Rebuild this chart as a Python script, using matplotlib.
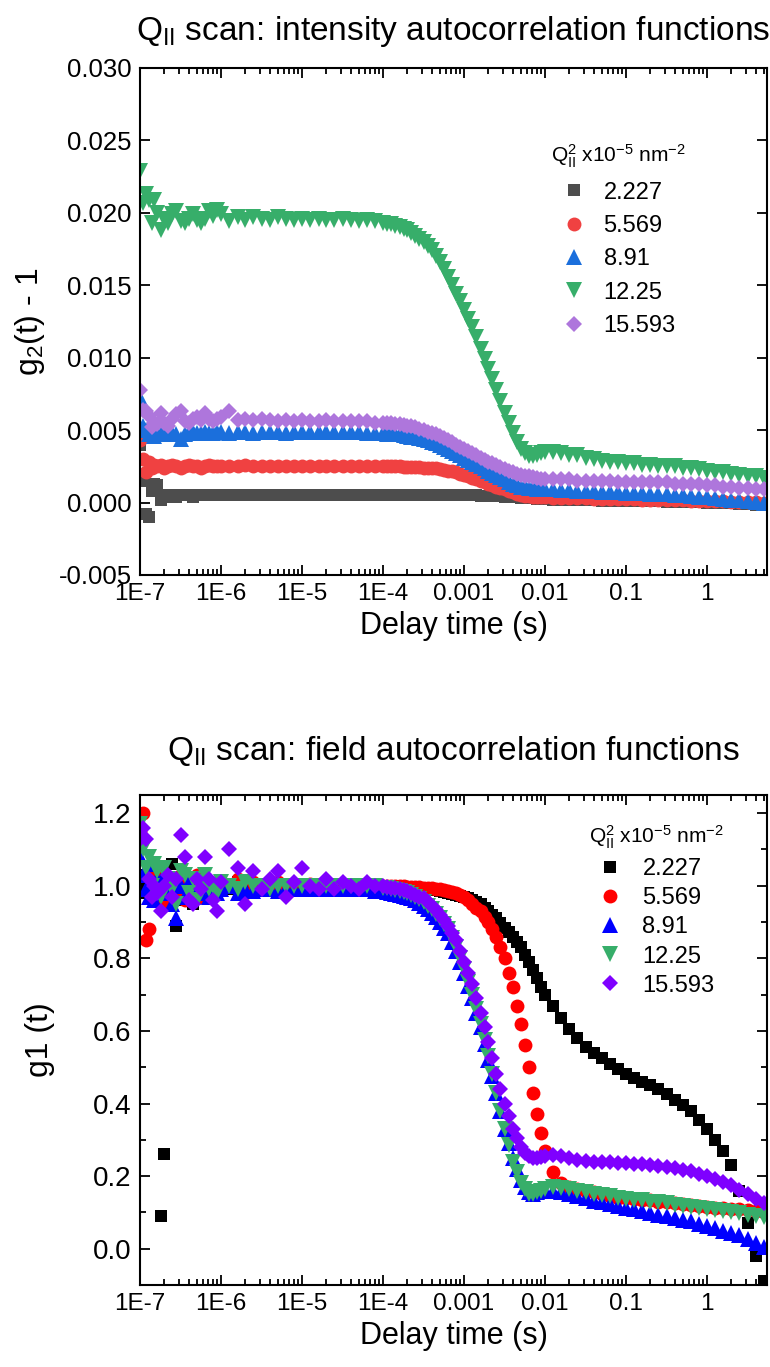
import matplotlib
matplotlib.use('Agg')
import matplotlib.pyplot as plt
from matplotlib.ticker import FixedLocator, FixedFormatter, MultipleLocator, NullFormatter

plt.rcParams['font.family'] = ['Liberation Sans', 'DejaVu Sans']
plt.rcParams['mathtext.fontset'] = 'custom'
plt.rcParams['mathtext.rm'] = 'Liberation Sans'
plt.rcParams['mathtext.it'] = 'Liberation Sans:italic'

# delay times (s) of the correlator channels
delay = [1.0e-7, 1.1e-7, 1.2e-7, 1.3e-7, 1.4e-7, 1.5e-7, 1.6e-7, 1.8e-7, 2.0e-7, 2.2e-7, 2.5e-7,
         2.8e-7, 3.2e-7, 3.6e-7, 4.0e-7, 4.5e-7, 5.0e-7, 5.6e-7, 6.3e-7, 7.1e-7, 8.0e-7, 9.0e-7,
         1.0e-6, 1.25e-6, 1.6e-6, 2.0e-6, 2.5e-6, 3.2e-6, 4.0e-6, 5.0e-6, 6.3e-6, 8.0e-6,
         1.0e-5, 1.25e-5, 1.6e-5, 2.0e-5, 2.5e-5, 3.2e-5, 4.0e-5, 5.0e-5, 6.3e-5, 8.0e-5,
         1.0e-4, 1.12e-4, 1.25e-4, 1.4e-4, 1.6e-4, 1.8e-4, 2.0e-4, 2.24e-4, 2.5e-4, 2.8e-4,
         3.2e-4, 3.55e-4, 4.0e-4, 4.5e-4, 5.0e-4, 5.6e-4, 6.3e-4, 7.1e-4, 8.0e-4, 9.0e-4,
         1.0e-3, 1.12e-3, 1.25e-3, 1.4e-3, 1.6e-3, 1.8e-3, 2.0e-3, 2.24e-3, 2.5e-3, 2.8e-3,
         3.2e-3, 3.55e-3, 4.0e-3, 4.5e-3, 5.0e-3, 5.6e-3, 6.3e-3, 7.1e-3, 8.0e-3, 9.0e-3,
         1.0e-2, 1.25e-2, 1.6e-2, 2.0e-2, 2.5e-2, 3.2e-2, 4.0e-2, 5.0e-2, 6.3e-2, 8.0e-2,
         0.1, 0.125, 0.16, 0.2, 0.25, 0.32, 0.4, 0.5, 0.63, 0.8,
         1.0, 1.25, 1.6, 2.0, 2.5, 3.2, 4.0, 5.0]

q2_labels = ['2.227', '5.569', '8.91', '12.25', '15.593']

# ---- g2(t) - 1 (intensity autocorrelation) ----
g2_q1 = [0.0040, 0.0015, -0.0008, -0.0010, 0.0008, 0.0013, 0.0012, 0.0002, 0.0004, 0.0005, 0.0005,
         0.0004, 0.0005, 0.0005, 0.0005, 0.0004, 0.0005, 0.0005, 0.0005, 0.0005, 0.0005, 0.0005,
         0.0005, 0.0005, 0.0005, 0.0005, 0.0005, 0.0005, 0.0005, 0.0005, 0.0005, 0.0005,
         0.0005, 0.0005, 0.0005, 0.0005, 0.0005, 0.0005, 0.0005, 0.0005, 0.0005, 0.0005,
         0.0005, 0.0005, 0.0005, 0.0005, 0.0005, 0.0005, 0.0005, 0.0005, 0.0005, 0.0005,
         0.0005, 0.0005, 0.0005, 0.0005, 0.0005, 0.0005, 0.0005, 0.0005, 0.0005, 0.0005,
         0.0005, 0.0005, 0.0005, 0.00049, 0.00048, 0.00047, 0.00046, 0.00045, 0.00044, 0.00043,
         0.00041, 0.0004, 0.00037, 0.00035, 0.00033, 0.00031, 0.0003, 0.00028, 0.00026, 0.00024,
         0.00022, 0.0002, 0.00019, 0.00018, 0.00017, 0.00016, 0.00015, 0.00014, 0.00013, 0.00012,
         0.00011, 0.0001, 0.0001, 0.00009, 0.00008, 0.00007, 0.00006, 0.00005, 0.00004, 0.00003,
         0.0, -0.00002, -0.00004, -0.00006, -0.00009, -0.00012, -0.00015, -0.0002]
g2_q2 = [0.0043, 0.0030, 0.0021, 0.0028, 0.0024, 0.0026, 0.0025, 0.0026, 0.0024, 0.0025, 0.0026,
         0.0025, 0.0024, 0.0025, 0.0026, 0.0025, 0.0025, 0.0024, 0.0025, 0.0026, 0.0025, 0.0025,
         0.0025, 0.0025, 0.0025, 0.0026, 0.0025, 0.0025, 0.0025, 0.0025, 0.0025, 0.0025,
         0.0025, 0.0025, 0.0025, 0.0025, 0.0025, 0.0025, 0.0025, 0.0025, 0.0025, 0.0025,
         0.0025, 0.0025, 0.0025, 0.0025, 0.0025, 0.00248, 0.00245, 0.00244, 0.00243, 0.00242,
         0.0024, 0.0024, 0.0024, 0.00235, 0.0023, 0.00225, 0.0022, 0.00215, 0.0021, 0.0020,
         0.0019, 0.0018, 0.0017, 0.0016, 0.0015, 0.0014, 0.0013, 0.0012, 0.0011, 0.0010,
         0.0009, 0.0008, 0.0007, 0.0006, 0.0005, 0.00046, 0.00042, 0.0004, 0.00037, 0.00036,
         0.00035, 0.00033, 0.00031, 0.0003, 0.00029, 0.00028, 0.00027, 0.00026, 0.00025, 0.00023,
         0.00022, 0.00021, 0.0002, 0.00019, 0.00018, 0.00017, 0.00016, 0.00015, 0.00014, 0.00012,
         0.00011, 0.0001, 0.00009, 0.00007, 0.00005, 0.00003, 0.00001, 0.0]
g2_q3 = [0.0072, 0.0053, 0.0050, 0.0047, 0.0049, 0.0046, 0.0048, 0.0047, 0.0048, 0.0047, 0.0048,
         0.0047, 0.0044, 0.0047, 0.0048, 0.0049, 0.0048, 0.0048, 0.0049, 0.0048, 0.0048, 0.0049,
         0.0049, 0.0048, 0.0049, 0.0049, 0.0048, 0.0049, 0.0049, 0.0049, 0.0048, 0.0049,
         0.0049, 0.0049, 0.0049, 0.0049, 0.0049, 0.0049, 0.0049, 0.0049, 0.0048, 0.0048,
         0.0048, 0.00475, 0.0047, 0.0047, 0.0047, 0.00465, 0.0046, 0.00455, 0.0045, 0.00445,
         0.0044, 0.0043, 0.0042, 0.0041, 0.0040, 0.00385, 0.0037, 0.00355, 0.0034, 0.00325,
         0.0031, 0.00295, 0.0028, 0.00265, 0.0025, 0.00235, 0.0022, 0.00205, 0.0019, 0.00175,
         0.0016, 0.00145, 0.0013, 0.0012, 0.0011, 0.00105, 0.0010, 0.00097, 0.00095, 0.00092,
         0.0009, 0.0009, 0.00088, 0.00085, 0.00083, 0.0008, 0.00078, 0.00075, 0.00072, 0.0007,
         0.00068, 0.00066, 0.00064, 0.00062, 0.0006, 0.00057, 0.00054, 0.0005, 0.00046, 0.0004,
         0.00035, 0.0003, 0.00026, 0.0002, 0.00015, 0.0001, 0.00005, 0.0]
g2_q4 = [0.0229, 0.0207, 0.0213, 0.0209, 0.0193, 0.0209, 0.0200, 0.0188, 0.0196, 0.0193, 0.0199,
         0.0201, 0.0194, 0.0193, 0.0196, 0.0199, 0.0195, 0.0193, 0.0196, 0.0201, 0.0198, 0.0202,
         0.0199, 0.0194, 0.0197, 0.0195, 0.0197, 0.0196, 0.0195, 0.0197, 0.0196, 0.0195,
         0.0196, 0.0195, 0.0196, 0.0195, 0.0195, 0.0196, 0.0195, 0.0194, 0.0195, 0.0194,
         0.0193, 0.01925, 0.0192, 0.0191, 0.0190, 0.0189, 0.0188, 0.0186, 0.0184, 0.0182,
         0.0180, 0.0177, 0.0174, 0.0170, 0.0166, 0.0161, 0.0156, 0.0150, 0.0144, 0.0139,
         0.0133, 0.0127, 0.0121, 0.0114, 0.0106, 0.0099, 0.0092, 0.0085, 0.0078, 0.0070,
         0.0062, 0.0055, 0.0048, 0.0042, 0.0037, 0.0034, 0.0032, 0.0032, 0.0033, 0.0034,
         0.0035, 0.0035, 0.0034, 0.0033, 0.0033, 0.0031, 0.0030, 0.0029, 0.0028, 0.0028,
         0.0027, 0.0027, 0.0026, 0.0026, 0.0025, 0.0025, 0.0025, 0.0024, 0.0024, 0.0023,
         0.0022, 0.0021, 0.0021, 0.0020, 0.0019, 0.0018, 0.0018, 0.0017]
g2_q5 = [0.0078, 0.0064, 0.0063, 0.0060, 0.0052, 0.0055, 0.0054, 0.0062, 0.0055, 0.0053, 0.0058,
         0.0061, 0.0063, 0.0056, 0.0055, 0.0058, 0.0059, 0.0057, 0.0062, 0.0058, 0.0056, 0.0058,
         0.0059, 0.0063, 0.0057, 0.0058, 0.0057, 0.0058, 0.0057, 0.0056, 0.0057, 0.0056,
         0.0057, 0.0056, 0.0056, 0.0057, 0.0056, 0.0056, 0.0056, 0.0056, 0.0056, 0.0055,
         0.0055, 0.0055, 0.0055, 0.00545, 0.0054, 0.00535, 0.0053, 0.00525, 0.0052, 0.0051,
         0.0050, 0.0049, 0.0048, 0.0047, 0.0046, 0.00445, 0.0043, 0.00415, 0.0040, 0.00385,
         0.0037, 0.00355, 0.0034, 0.00325, 0.0031, 0.00295, 0.0028, 0.0027, 0.0026, 0.00245,
         0.0023, 0.0022, 0.0021, 0.0020, 0.0019, 0.00185, 0.0018, 0.00175, 0.0017, 0.00165,
         0.0016, 0.0016, 0.0016, 0.0016, 0.0015, 0.0015, 0.0015, 0.0015, 0.0015, 0.0014,
         0.0014, 0.0014, 0.0014, 0.0014, 0.0014, 0.0014, 0.0013, 0.0013, 0.0013, 0.0013,
         0.0012, 0.0012, 0.0011, 0.0011, 0.0010, 0.0010, 0.0009, 0.0009]

# ---- g1(t) (field autocorrelation) ----
g1_q1 = [1.00, 0.98, 1.03, 0.99, 1.01, 0.97, 1.02, 0.09, 0.26, 0.97, 1.06,
         0.89, 1.00, 0.96, 1.01, 0.95, 1.00, 0.98, 1.01, 0.99, 1.00, 1.00,
         1.00, 0.99, 1.01, 1.00, 0.99, 1.00, 1.00, 1.00, 1.00, 1.00,
         1.00, 1.00, 1.00, 1.00, 1.00, 1.00, 1.00, 1.00, 1.00, 1.00,
         1.00, 1.00, 1.00, 1.00, 1.00, 0.998, 0.995, 0.995, 0.995, 0.993,
         0.99, 0.99, 0.99, 0.988, 0.985, 0.983, 0.98, 0.978, 0.975, 0.973,
         0.97, 0.965, 0.96, 0.955, 0.95, 0.94, 0.93, 0.92, 0.91, 0.898,
         0.885, 0.873, 0.86, 0.845, 0.83, 0.81, 0.79, 0.768, 0.745, 0.722,
         0.70, 0.67, 0.635, 0.605, 0.58, 0.555, 0.54, 0.525, 0.51, 0.495,
         0.48, 0.47, 0.46, 0.45, 0.44, 0.425, 0.41, 0.395, 0.38, 0.355,
         0.33, 0.30, 0.27, 0.23, 0.16, 0.07, -0.02, -0.09]
g1_q2 = [1.15, 1.20, 0.85, 0.88, 1.05, 0.97, 1.04, 0.96, 1.00, 0.95, 1.02,
         0.98, 1.03, 0.96, 1.01, 0.99, 1.03, 0.97, 1.00, 1.01, 0.99, 1.00,
         0.99, 1.00, 1.02, 0.98, 1.01, 1.00, 0.99, 1.01, 1.00, 1.00,
         1.00, 1.005, 1.00, 0.995, 1.00, 1.00, 1.00, 1.00, 1.00, 1.00,
         1.00, 1.00, 1.00, 1.00, 1.00, 0.999, 0.998, 0.998, 0.997, 0.996,
         0.995, 0.994, 0.993, 0.992, 0.99, 0.988, 0.985, 0.983, 0.98, 0.975,
         0.97, 0.96, 0.95, 0.94, 0.93, 0.915, 0.90, 0.88, 0.86, 0.83,
         0.80, 0.76, 0.72, 0.67, 0.62, 0.56, 0.50, 0.43, 0.37, 0.32,
         0.27, 0.21, 0.18, 0.17, 0.165, 0.16, 0.155, 0.15, 0.145, 0.14,
         0.14, 0.138, 0.135, 0.133, 0.13, 0.128, 0.125, 0.122, 0.12, 0.118,
         0.115, 0.113, 0.111, 0.11, 0.108, 0.106, 0.103, 0.10]
g1_q3 = [1.08, 1.03, 0.99, 0.97, 1.06, 0.96, 1.02, 0.98, 1.03, 0.98, 0.95,
         0.91, 1.00, 0.97, 1.01, 0.97, 0.99, 0.98, 1.00, 0.97, 0.99, 0.98,
         0.99, 1.00, 0.98, 0.99, 0.985, 0.99, 0.99, 0.985, 0.99, 0.99,
         0.99, 0.99, 0.99, 0.99, 0.99, 0.99, 0.99, 0.99, 0.99, 0.985,
         0.985, 0.983, 0.98, 0.978, 0.975, 0.973, 0.97, 0.965, 0.96, 0.953,
         0.945, 0.935, 0.925, 0.913, 0.90, 0.885, 0.87, 0.845, 0.82, 0.79,
         0.76, 0.725, 0.69, 0.65, 0.61, 0.565, 0.52, 0.475, 0.43, 0.38,
         0.33, 0.29, 0.25, 0.22, 0.19, 0.17, 0.155, 0.152, 0.155, 0.158,
         0.16, 0.16, 0.155, 0.15, 0.145, 0.14, 0.132, 0.128, 0.122, 0.118,
         0.112, 0.108, 0.103, 0.098, 0.094, 0.09, 0.085, 0.08, 0.075, 0.068,
         0.062, 0.056, 0.05, 0.044, 0.037, 0.027, 0.015, 0.005]
g1_q4 = [1.17, 1.10, 1.05, 1.08, 1.00, 1.06, 1.04, 0.97, 1.05, 1.02, 0.99,
         0.95, 1.04, 1.03, 0.98, 1.02, 0.96, 1.01, 1.03, 0.99, 1.00, 0.98,
         1.01, 1.00, 0.99, 1.01, 1.00, 1.00, 0.99, 1.00, 1.00, 1.00,
         1.00, 1.00, 1.00, 1.00, 1.00, 1.00, 1.00, 1.00, 1.00, 1.00,
         0.995, 0.993, 0.99, 0.988, 0.985, 0.983, 0.98, 0.975, 0.97, 0.963,
         0.955, 0.945, 0.935, 0.923, 0.91, 0.895, 0.88, 0.855, 0.83, 0.80,
         0.77, 0.735, 0.70, 0.66, 0.62, 0.575, 0.53, 0.48, 0.43, 0.38,
         0.33, 0.285, 0.24, 0.21, 0.18, 0.165, 0.15, 0.15, 0.155, 0.16,
         0.165, 0.17, 0.168, 0.165, 0.16, 0.155, 0.15, 0.148, 0.145, 0.14,
         0.138, 0.135, 0.133, 0.13, 0.128, 0.125, 0.12, 0.118, 0.115, 0.112,
         0.11, 0.107, 0.104, 0.10, 0.097, 0.094, 0.09, 0.088]
g1_q5 = [1.13, 1.16, 1.13, 1.02, 0.97, 1.00, 0.98, 0.93, 1.00, 1.03, 0.97,
         1.02, 1.14, 1.08, 0.96, 0.95, 1.02, 0.99, 1.08, 1.02, 0.96, 0.93,
         1.01, 1.10, 1.05, 0.95, 1.04, 0.99, 1.02, 1.04, 0.97, 1.01,
         1.05, 1.00, 0.99, 1.02, 0.99, 1.01, 1.00, 0.99, 1.01, 1.00,
         1.00, 0.998, 0.995, 0.993, 0.99, 0.988, 0.985, 0.98, 0.975, 0.97,
         0.965, 0.955, 0.945, 0.933, 0.92, 0.905, 0.89, 0.87, 0.85, 0.82,
         0.79, 0.76, 0.73, 0.69, 0.65, 0.61, 0.57, 0.525, 0.48, 0.44,
         0.40, 0.365, 0.33, 0.305, 0.28, 0.265, 0.255, 0.25, 0.25, 0.252,
         0.255, 0.258, 0.255, 0.25, 0.245, 0.243, 0.24, 0.24, 0.238, 0.236,
         0.235, 0.234, 0.232, 0.23, 0.228, 0.225, 0.222, 0.218, 0.213, 0.207,
         0.20, 0.193, 0.185, 0.175, 0.163, 0.15, 0.138, 0.125]

g2_series = [g2_q1, g2_q2, g2_q3, g2_q4, g2_q5]
g1_series = [g1_q1, g1_q2, g1_q3, g1_q4, g1_q5]

markers = ['s', 'o', '^', 'v', 'D']
msizes = [8.7, 10, 11.5, 11.5, 8.2]
top_colors = ['#4d4d4d', '#f04141', '#1b6fdc', '#37ae6a', '#ae76dc']
bot_colors = ['#000000', '#ff0000', '#0000ff', '#37ae6a', '#7f00ff']

xticks = [1e-7, 1e-6, 1e-5, 1e-4, 1e-3, 1e-2, 1e-1, 1]
xticklabels = ['1E-7', '1E-6', '1E-5', '1E-4', '0.001', '0.01', '0.1', '1']

legend_title = r'$\mathregular{Q_{II}^{2}}$ x10$^{\mathregular{-5}}$ nm$^{\mathregular{-2}}$'

fig = plt.figure(figsize=(7.7, 13.67), dpi=100)
ax1 = fig.add_axes([0.1818, 0.5794, 0.8142, 0.3709])
ax2 = fig.add_axes([0.1818, 0.0600, 0.8142, 0.3584])


def style_axes(ax, ylabsize):
    ax.set_xscale('log')
    ax.set_xlim(1e-7, 5.5)
    ax.xaxis.set_major_locator(FixedLocator(xticks))
    ax.xaxis.set_major_formatter(FixedFormatter(xticklabels))
    minors = [m * 10.0 ** e for e in range(-7, 1) for m in range(2, 10)]
    ax.xaxis.set_minor_locator(FixedLocator(minors))
    ax.xaxis.set_minor_formatter(NullFormatter())
    ax.tick_params(which='both', direction='in', top=True, right=True, width=1.3, pad=6)
    ax.tick_params(axis='x', labelsize=17.5)
    ax.tick_params(axis='y', labelsize=ylabsize)
    ax.tick_params(which='major', length=7)
    ax.tick_params(which='minor', length=4)
    for sp in ax.spines.values():
        sp.set_linewidth(1.5)
    ax.set_xlabel('Delay time (s)', fontsize=22, labelpad=4)


for vals, lab, mk, ms, c in zip(g2_series, q2_labels, markers, msizes, top_colors):
    ax1.plot(delay, vals, linestyle='none', marker=mk, ms=ms, color=c,
             markeredgewidth=0, label=lab)
style_axes(ax1, 18.5)
ax1.set_ylim(-0.005, 0.030)
ax1.yaxis.set_major_locator(MultipleLocator(0.005))
ax1.yaxis.set_major_formatter(plt.FuncFormatter(lambda v, p: '{:.3f}'.format(v)))
ax1.set_ylabel('g$_\\mathregular{2}$(t) - 1', fontsize=23)
ax1.yaxis.set_label_coords(-0.148, 0.5)
ax1.set_title(r'Q$_{\mathregular{II}}$ scan: intensity autocorrelation functions', fontsize=24, pad=20)
leg1 = ax1.legend(loc='upper left', bbox_to_anchor=(0.63, 0.885), frameon=False, fontsize=17,
                  title=legend_title, title_fontsize=15, handlelength=1.0, handletextpad=0.75,
                  labelspacing=0.48, borderpad=0.2)

for vals, lab, mk, ms, c in zip(g1_series, q2_labels, markers, msizes, bot_colors):
    ax2.plot(delay, vals, linestyle='none', marker=mk, ms=ms, color=c,
             markeredgewidth=0, label=lab)
style_axes(ax2, 20)
ax2.set_ylim(-0.1, 1.25)
ax2.yaxis.set_major_locator(MultipleLocator(0.2))
ax2.yaxis.set_minor_locator(MultipleLocator(0.1))
ax2.yaxis.set_major_formatter(plt.FuncFormatter(lambda v, p: '{:.1f}'.format(v)))
ax2.set_ylabel('g1 (t)', fontsize=23)
ax2.yaxis.set_label_coords(-0.136, 0.5)
ax2.set_title(r'Q$_{\mathregular{II}}$ scan: field autocorrelation functions', fontsize=24, pad=25)
leg2 = ax2.legend(loc='upper left', bbox_to_anchor=(0.69, 0.975), frameon=False, fontsize=17,
                  title=legend_title, title_fontsize=15, handlelength=1.0, handletextpad=0.86,
                  labelspacing=0.3, borderpad=0.2)

fig.savefig('out.png', dpi=100)
